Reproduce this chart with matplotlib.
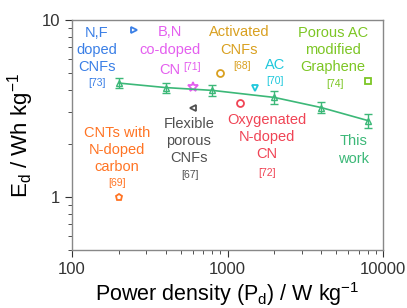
import numpy as np
import matplotlib
matplotlib.use("Agg")
import matplotlib.pyplot as plt

plt.rcParams['font.family'] = ['Liberation Sans', 'DejaVu Sans']
plt.rcParams['mathtext.default'] = 'regular'
plt.rcParams['axes.unicode_minus'] = False

# this work
pd_work = [200, 400, 800, 2000, 4000, 8000]
ed_work = [4.4, 4.15, 4.0, 3.65, 3.2, 2.7]
err_work = [0.3, 0.28, 0.28, 0.3, 0.22, 0.25]

# literature points
lit_names = ["N,F\ndoped\nCNFs", "B,N\nco-doped", "Flexible\nporous\nCNFs",
             "Activated\nCNFs", "AC", "Oxygenated\nN-doped\nCN",
             "Porous AC\nmodified\nGraphene", "CNTs with\nN-doped\ncarbon"]
lit_refs = ["[73]", "[71]", "[67]", "[68]", "[70]", "[72]", "[74]", "[69]"]
lit_p = [250, 600, 600, 900, 1500, 1200, 8000, 200]
lit_e = [8.8, 4.2, 3.2, 5.0, 4.15, 3.4, 4.5, 1.0]
lit_markers = [">", "*", "<", "o", "v", "o", "s", "p"]
lit_colors = ["#3a7fe6", "#e45fef", "#505050", "#d9a020", "#1ec8dc", "#f04455", "#7cc624", "#ff7424"]

# label centres (axes fraction) for each material, and for its ref
lab_xy = [(0.080, 0.870), (0.315, 0.909), (0.376, 0.474), (0.537, 0.909), (0.653, 0.804),
          (0.626, 0.491), (0.838, 0.870), (0.144, 0.435)]
ref_xy = [(0.080, 0.726), (0.387, 0.794), (0.379, 0.326), (0.546, 0.800), (0.653, 0.735),
          (0.626, 0.336), (0.846, 0.722), (0.144, 0.291)]

fig = plt.figure(figsize=(4.07, 3.08), dpi=100)
ax = fig.add_axes([0.177, 0.188, 0.764, 0.747])

green = "#3cb878"
ax.errorbar(pd_work, ed_work, yerr=err_work, color=green, marker="^", mfc="none",
            mec=green, ms=5, mew=1.0, lw=1.2, capsize=3, elinewidth=1.0, zorder=3)

for i in range(len(lit_p)):
    ax.plot(lit_p[i], lit_e[i], marker=lit_markers[i], color=lit_colors[i], mfc="none",
            mew=1.3, ms=5 if lit_markers[i] != "*" else 7, ls="none")
    ax.text(lab_xy[i][0], lab_xy[i][1], lit_names[i], transform=ax.transAxes,
            color=lit_colors[i], fontsize=10.5, ha="center", va="center", linespacing=1.3)
    ax.text(ref_xy[i][0], ref_xy[i][1], lit_refs[i], transform=ax.transAxes,
            color=lit_colors[i], fontsize=7.5, ha="center", va="center")

# last line of the B,N label, kept apart so its ref can sit beside it
ax.text(0.315, 0.783, "CN", transform=ax.transAxes, color=lit_colors[1],
        fontsize=10.5, ha="center", va="center")

ax.text(0.904, 0.435, "This\nwork", transform=ax.transAxes, color=green,
        fontsize=10.5, ha="center", va="center", linespacing=1.3)

ax.set_xscale("log")
ax.set_yscale("log")
ax.set_xlim(100, 10000)
ax.set_ylim(0.5, 10)
ax.set_xticks([100, 1000, 10000])
ax.set_xticklabels(["100", "1000", "10000"])
ax.set_yticks([1, 10])
ax.set_yticklabels(["1", "10"])
ax.yaxis.set_minor_formatter(matplotlib.ticker.NullFormatter())
ax.tick_params(which="both", direction="out", top=False, right=False, labelsize=12, colors="#333333")
ax.tick_params(which="major", length=5)
ax.tick_params(which="minor", length=3)
for s in ax.spines.values():
    s.set_color("#888888")
    s.set_linewidth(1.0)

ax.set_xlabel("Power density (P$_d$) / W kg$^{-1}$", fontsize=15.5, labelpad=2)
ax.set_ylabel("E$_d$ / Wh kg$^{-1}$", fontsize=16, labelpad=4)

fig.savefig("out.png", dpi=100)
